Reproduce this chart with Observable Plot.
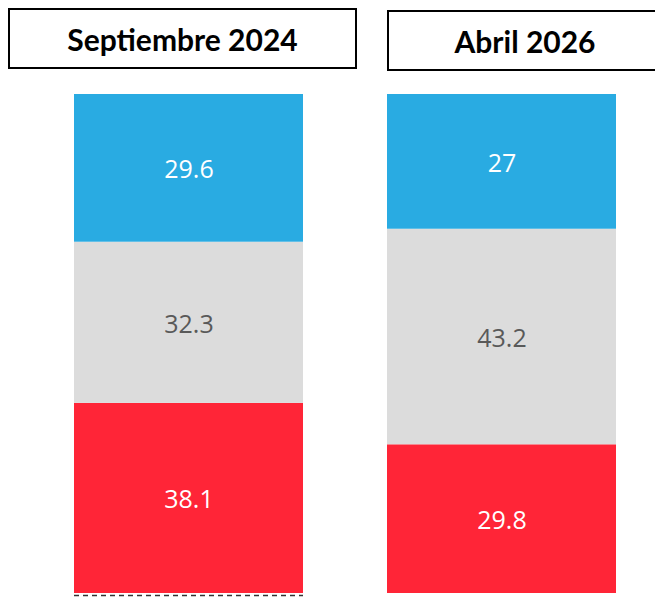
<!DOCTYPE html>
<html><head><meta charset="utf-8">
<script src="https://cdn.jsdelivr.net/npm/d3@7"></script>
<script src="https://cdn.jsdelivr.net/npm/@observablehq/plot@0.6"></script>
<style>
body{margin:0;background:#fff;width:655px;overflow:hidden;}
#header{position:relative;height:80px;overflow:hidden;width:655px;}
.box{position:absolute;box-sizing:border-box;border:2px solid #000;height:61px;display:flex;align-items:center;justify-content:center;font-family:Lato,sans-serif;font-weight:700;font-size:30px;color:#000;padding-top:1px;}
#chart svg{display:block;}
</style></head><body>
<div id="header"></div>
<div id="chart"></div>
<script>
const periods = ["Septiembre 2024", "Abril 2026"];
const categories = ["rojo", "gris", "azul"]; // bottom to top
const septiembre2024 = [38.1, 32.3, 29.6];
const abril2026 = [29.8, 43.2, 27];
const barColors = ["#FF2537", "#DCDCDC", "#29ABE2"];
const labelColors = ["#FFFFFF", "#595959", "#FFFFFF"];

// header boxes
const header = document.getElementById("header");
const boxStyles = [
  {left: "8px", top: "8px", width: "349px"},
  {left: "387px", top: "10px", width: "276px"}
];
periods.forEach((p, i) => {
  const b = document.createElement("div");
  b.className = "box";
  Object.assign(b.style, boxStyles[i]);
  b.textContent = p;
  header.appendChild(b);
});

const series = [septiembre2024, abril2026];
const data = [];
periods.forEach((p, i) => {
  categories.forEach((c, j) => data.push({period: p, category: c, value: series[i][j], ci: j}));
});

const chart = Plot.plot({
  width: 655,
  height: 517,
  marginLeft: 73,
  marginRight: 38,
  marginTop: 14,
  marginBottom: 4,
  x: {domain: periods, paddingInner: 0.2675, paddingOuter: 0, axis: null},
  y: {domain: [0, 100], axis: null},
  marks: [
    Plot.barY(data, {x: "period", y: "value", fill: d => barColors[d.ci]}),
    Plot.text(data, Plot.stackY({
      x: "period", y: "value",
      text: d => String(d.value),
      fill: d => labelColors[d.ci],
      fontSize: 25,
      fontFamily: "Open Sans",
      dy: 2
    })),
    Plot.tickY([{period: periods[0], v: 0}], {x: "period", y: "v", stroke: "#333", strokeWidth: 1.5, strokeDasharray: "5,4", dy: 2})
  ]
});
document.getElementById("chart").appendChild(chart);
</script>
</body></html>
